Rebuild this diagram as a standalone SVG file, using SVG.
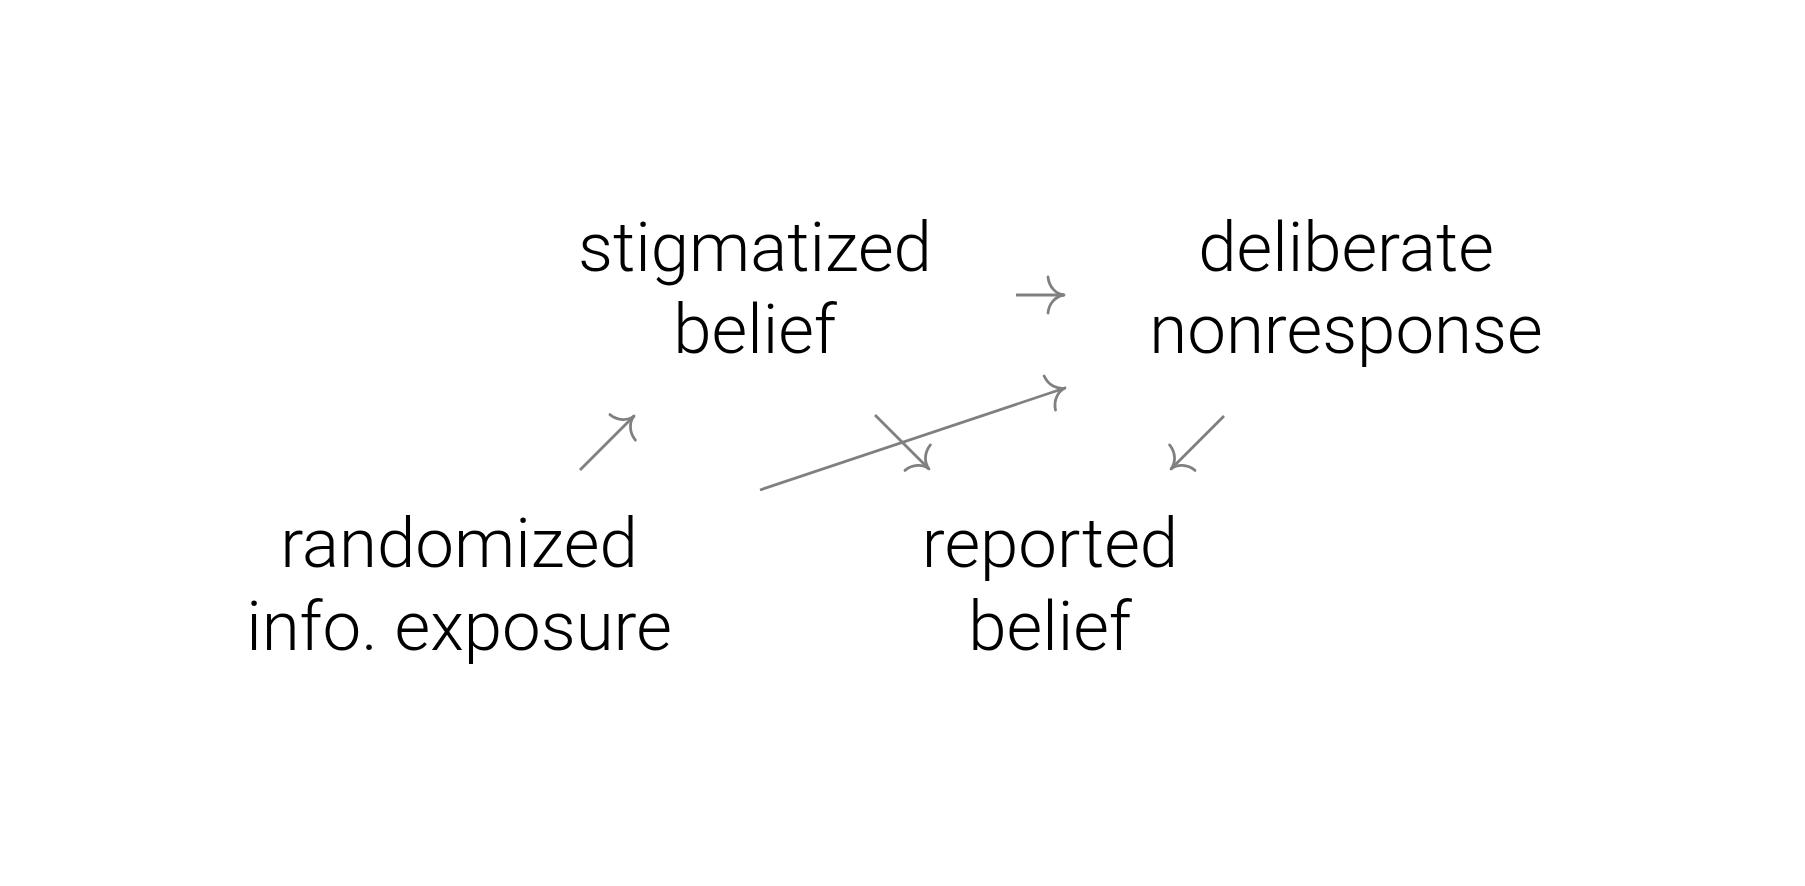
<svg xmlns="http://www.w3.org/2000/svg" width="1805" height="886" viewBox="0 0 1805 886">
  <style>
    .lbl { font-family: Roboto, "Liberation Sans", sans-serif; font-weight: 300; font-size: 69px; fill: #000; text-anchor: middle; }
    .edge { stroke: #808080; stroke-width: 2.8; fill: none; marker-end: url(#head); }
  </style>
  <defs>
    <marker id="head" markerUnits="userSpaceOnUse" viewBox="-20 -22 24 44" refX="0" refY="0" markerWidth="24" markerHeight="44" orient="auto" overflow="visible">
      <path d="M -16 -18 C -15 -8 -8 -1 0 0 M -16 18 C -15 8 -8 1 0 0" stroke="#808080" stroke-width="2.8" fill="none" stroke-linecap="round"/>
    </marker>
  </defs>
  <rect width="1805" height="886" fill="#fff"/>
  <g id="connectors">
    <line class="edge" x1="1016" y1="295" x2="1064" y2="295"/>
    <line class="edge" x1="580" y1="470" x2="634" y2="416"/>
    <line class="edge" x1="875" y1="415" x2="929" y2="469"/>
    <line class="edge" x1="1224" y1="416" x2="1171" y2="469"/>
    <line class="edge" x1="760" y1="490" x2="1065" y2="388"/>
  </g>
  <g id="stigmatized">
    <text class="lbl" x="755" y="271">stigmatized</text>
    <text class="lbl" x="755" y="353">belief</text>
  </g>
  <g id="deliberate">
    <text class="lbl" x="1346" y="271">deliberate</text>
    <text class="lbl" x="1346" y="353">nonresponse</text>
  </g>
  <g id="randomized">
    <text class="lbl" x="459" y="567">randomized</text>
    <text class="lbl" x="459" y="650">info. exposure</text>
  </g>
  <g id="reported">
    <text class="lbl" x="1050" y="567">reported</text>
    <text class="lbl" x="1050" y="650">belief</text>
  </g>
</svg>
